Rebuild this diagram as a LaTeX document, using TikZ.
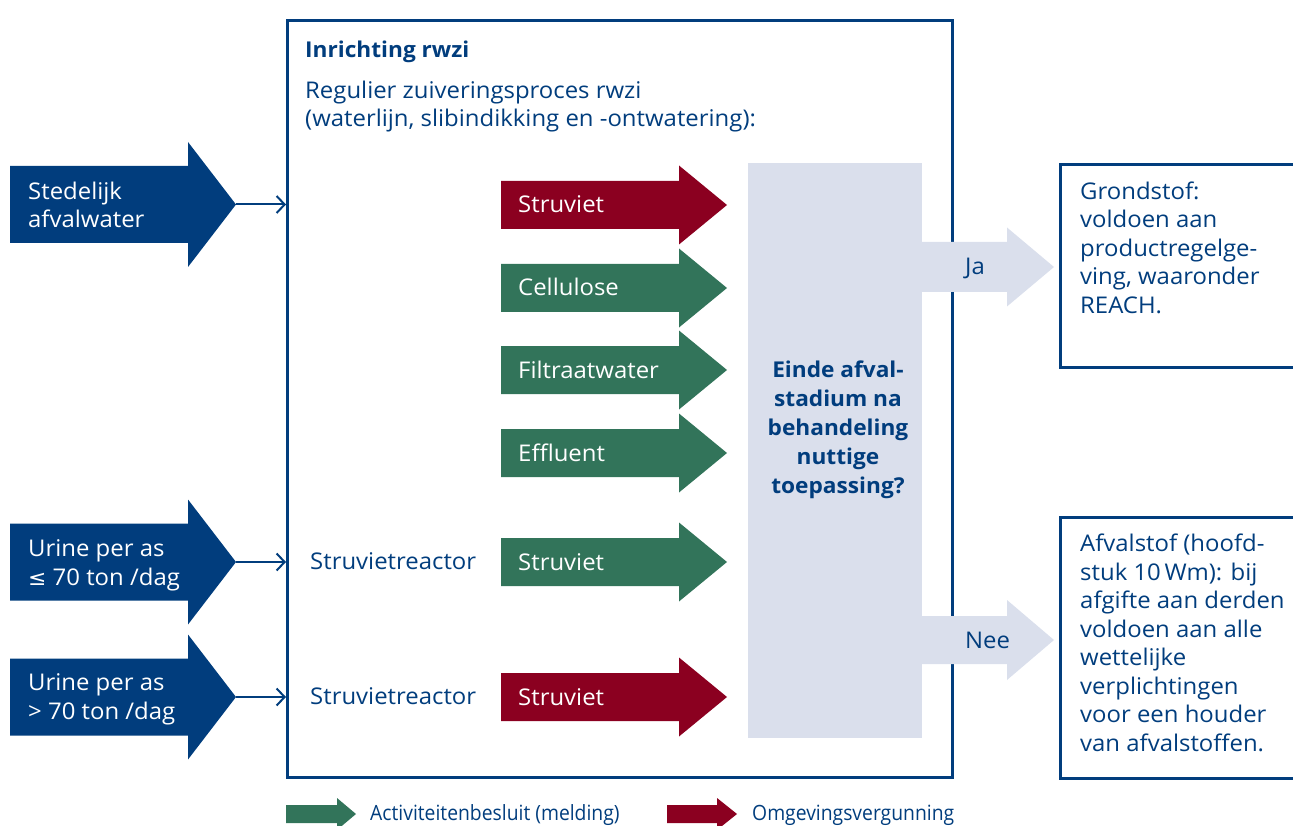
\documentclass[tikz,border=0pt]{standalone}
\usepackage{fontspec}
\setmainfont[FakeStretch=1.04]{Open Sans}
\newfontfamily\symfont[FakeStretch=1.04]{DejaVu Sans}
\newfontfamily\legfont[FakeStretch=0.92]{Open Sans}
\usetikzlibrary{arrows.meta}
\definecolor{dblue}{RGB}{1,61,125}
\definecolor{dgreen}{RGB}{50,116,90}
\definecolor{dred}{RGB}{139,0,32}
\definecolor{lblue}{RGB}{218,223,236}
% name, colour, x body start, x head start, x tip, y centre, body half, head half
\newcommand{\blockarr}[8]{%
  \fill[#2] (#3,#6-#7) -- (#4,#6-#7) -- (#4,#6-#8) -- (#5,#6) -- (#4,#6+#8) -- (#4,#6+#7) -- (#3,#6+#7) -- cycle;
  \coordinate (#1) at (#5,#6);
}
\tikzset{
  x=1pt, y=-1pt,
  txt/.style={text=dblue, font=\fontsize{23}{28.5}\selectfont, inner sep=0pt, align=left, anchor=base west},
  wtxt/.style={txt, text=white},
  boldtxt/.style={font=\bfseries\fontsize{21.8}{29}\selectfont},
  thin/.style={draw=dblue, line width=2pt, -{Straight Barb[length=8pt,width=17pt,line width=2pt]}},
  framebox/.style={draw=dblue, line width=2.6pt, inner sep=0pt, anchor=north west},
  legtxt/.style={text=dblue, font=\legfont\fontsize{21}{23}\selectfont, inner sep=0pt, anchor=base west},
}
\begin{document}
\begin{tikzpicture}
\useasboundingbox (0,0) rectangle (1293,826);
% main frame
\node[framebox, minimum width=665pt, minimum height=757pt] (box) at (286,19) {};
\node[txt, boldtxt] (title) at (305,58) {Inrichting rwzi};
\node[txt] (sub) at (305,127) {Regulier zuiveringsproces rwzi\\(waterlijn, slibindikking en -ontwatering):};
% decision box
\node[fill=lblue, minimum width=174pt, minimum height=575pt, inner sep=0pt, anchor=north west] (dec) at (748,163) {};
\node[text=dblue, boldtxt, align=center, inner sep=0pt, anchor=base] (dectxt) at (838,493)
  {Einde afval-\\stadium na\\behandeling\\nuttige\\toepassing?};
% left inputs
\blockarr{inA}{dblue}{10}{188}{236}{204.5}{38.5}{62.5}
\blockarr{inB}{dblue}{10}{188}{236}{562}{38.5}{62.5}
\blockarr{inC}{dblue}{10}{188}{236}{697}{38.5}{62.5}
\node[wtxt] (tA) at (28,228) {Stedelijk\\afvalwater};
\node[wtxt] (tB) at (28,585) {Urine per as\\{\symfont\fontsize{21}{28.5}\selectfont ≤} 70 ton /dag};
\node[wtxt] (tC) at (28,719) {Urine per as\\> 70 ton /dag};
\draw[thin] (inA) -- (inA -| box.west);
\draw[thin] (inB) -- (inB -| box.west);
\draw[thin] (inC) -- (inC -| box.west);
\node[txt] (rB) at (310,569) {Struvietreactor};
\node[txt] (rC) at (310,704) {Struvietreactor};
% middle arrows
\blockarr{m1}{dred}{501}{679}{727}{205}{24}{39.5}
\blockarr{m2}{dgreen}{501}{679}{727}{288}{24}{39.5}
\blockarr{m3}{dgreen}{501}{679}{727}{370}{24}{39.5}
\blockarr{m4}{dgreen}{501}{679}{727}{453}{24}{39.5}
\blockarr{m5}{dgreen}{501}{679}{727}{562}{24}{39.5}
\blockarr{m6}{dred}{501}{679}{727}{697}{24}{39.5}
\node[wtxt] (tm1) at (518,213) {Struviet};
\node[wtxt] (tm2) at (518,296) {Cellulose};
\node[wtxt] (tm3) at (518,378) {Filtraatwater};
\node[wtxt] (tm4) at (518,461) {Effluent};
\node[wtxt] (tm5) at (518,570) {Struviet};
\node[wtxt] (tm6) at (518,705) {Struviet};
% outputs
\blockarr{ja}{lblue}{920}{1007}{1054}{267}{25}{39.5}
\blockarr{nee}{lblue}{920}{1007}{1054}{640}{24}{40}
\node[txt] (tja) at (965,275) {Ja};
\node[txt] (tnee) at (965,648) {Nee};
\node[framebox, minimum width=250pt, minimum height=203pt] (grond) at (1059,163) {};
\node[txt] (tgrond) at (1080,313) {Grondstof:\\voldoen aan\\productregelge-\\ving, waaronder\\REACH.};
\node[framebox, minimum width=250pt, minimum height=261pt] (afval) at (1059,516) {};
\node[txt, font=\fontsize{23}{28.43}\selectfont] (tafval) at (1080,751) {Afvalstof (hoofd-\\stuk 10\,Wm): bij\\afgifte aan derden\\voldoen aan alle\\wettelijke\\verplichtingen\\voor een houder\\van afvalstoffen.};
% legend
\blockarr{lg}{dgreen}{286}{337}{356}{814}{9}{16}
\blockarr{lr}{dred}{667}{717}{737}{814}{9}{16}
\node[legtxt] (lgt) at (370,820) {Activiteitenbesluit (melding)};
\node[legtxt] (lrt) at (752,820) {Omgevingsvergunning};
\end{tikzpicture}
\end{document}
